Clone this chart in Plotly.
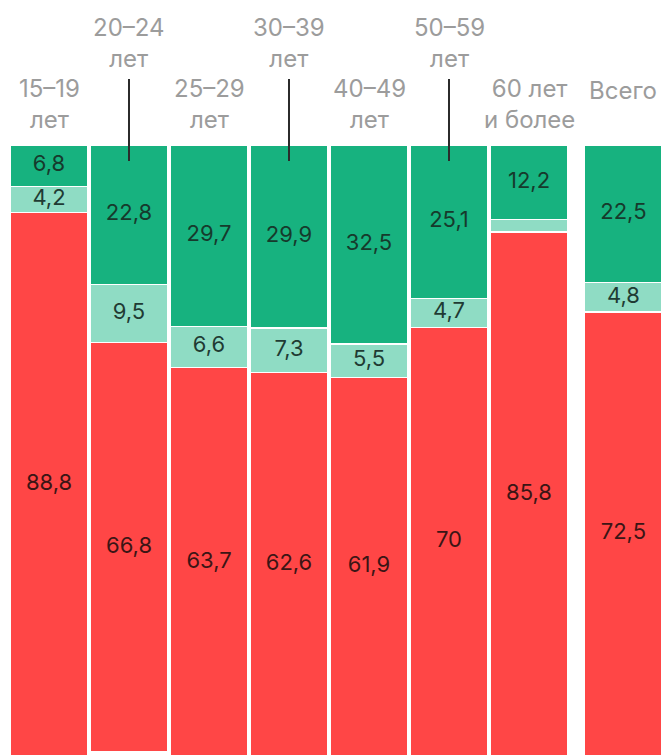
import plotly.graph_objects as go

categories = ["15–19<br>лет", "20–24<br>лет", "25–29<br>лет", "30–39<br>лет",
              "40–49<br>лет", "50–59<br>лет", "60 лет<br>и более", "Всего"]
dark_vals = [6.8, 22.8, 29.7, 29.9, 32.5, 25.1, 12.2, 22.5]
light_vals = [4.2, 9.5, 6.6, 7.3, 5.5, 4.7, 2.0, 4.8]
red_vals = [88.8, 66.8, 63.7, 62.6, 61.9, 70, 85.8, 72.5]
show_light_label = [True, True, True, True, True, True, False, True]

W, H = 661, 755
TOP_PX = 145          # pixel of 0 % (top of bars)
FULL_PX = 612         # pixels for 100 %
X0_PX, SLOT_PX = 49, 80


def py(px):
    return (px - TOP_PX) / FULL_PX * 100


def px_x(px):
    return (px - X0_PX) / SLOT_PX


GAP = 0.18
xpos = [i + (GAP if i == len(categories) - 1 else 0) for i in range(len(categories))]


def fmt(v):
    return ("%g" % v).replace(".", ",")


DARK = "#17b27f"
LIGHT = "#8fdcc4"
RED = "#ff4646"
FONT = "Inter"
VAL_SIZE = 22

fig = go.Figure()
common = dict(width=0.965, marker_line=dict(color="#ffffff", width=1.2),
              hoverinfo="skip", textposition="none")
fig.add_bar(x=xpos, y=dark_vals, marker_color=DARK, **common)
fig.add_bar(x=xpos, y=light_vals, marker_color=LIGHT, **common)
fig.add_bar(x=xpos, y=red_vals, marker_color=RED, **common)

# value labels at segment centres
dark_mid = [d / 2 for d in dark_vals]
light_mid = [d + l / 2 for d, l in zip(dark_vals, light_vals)]
red_mid = [d + l + r / 2 for d, l, r in zip(dark_vals, light_vals, red_vals)]
fig.add_scatter(x=xpos, y=dark_mid, mode="text", text=[fmt(v) for v in dark_vals],
                textfont=dict(family=FONT, size=VAL_SIZE, color="#163a2c"),
                hoverinfo="skip", cliponaxis=False)
fig.add_scatter(x=xpos, y=light_mid, mode="text",
                text=[fmt(v) if s else "" for v, s in zip(light_vals, show_light_label)],
                textfont=dict(family=FONT, size=VAL_SIZE, color="#1f3b33"),
                hoverinfo="skip", cliponaxis=False)
fig.add_scatter(x=xpos, y=red_mid, mode="text", text=[fmt(v) for v in red_vals],
                textfont=dict(family=FONT, size=VAL_SIZE, color="#3b1515"),
                hoverinfo="skip", cliponaxis=False)

# category labels, alternating heights with leader lines
for i, (x, lab) in enumerate(zip(xpos, categories)):
    upper = i in (1, 3, 5)
    single = "<br>" not in lab
    if upper:
        yc = py(43)
    elif single:
        yc = py(90)
    else:
        yc = py(104)
    fig.add_annotation(x=x, y=yc, text=lab, showarrow=False, xanchor="center",
                       yanchor="middle", align="center",
                       font=dict(family=FONT, size=24, color="#9c9c9c"))
    if upper:
        fig.add_shape(type="line", x0=x, x1=x, y0=py(79), y1=py(161),
                      line=dict(color="#2b2b2b", width=2), layer="above")

fig.update_layout(
    barmode="stack", width=W, height=H,
    margin=dict(l=0, r=0, t=0, b=0),
    paper_bgcolor="white", plot_bgcolor="white",
    showlegend=False, bargap=0,
    xaxis=dict(range=[px_x(0), px_x(W)], visible=False, fixedrange=True),
    yaxis=dict(range=[py(H), py(0)], visible=False, fixedrange=True),
)
fig.write_html("out.html",
               config={"displayModeBar": False, "staticPlot": True},
               post_script="document.body.style.margin='0';"
                           "document.body.style.overflow='hidden';")
